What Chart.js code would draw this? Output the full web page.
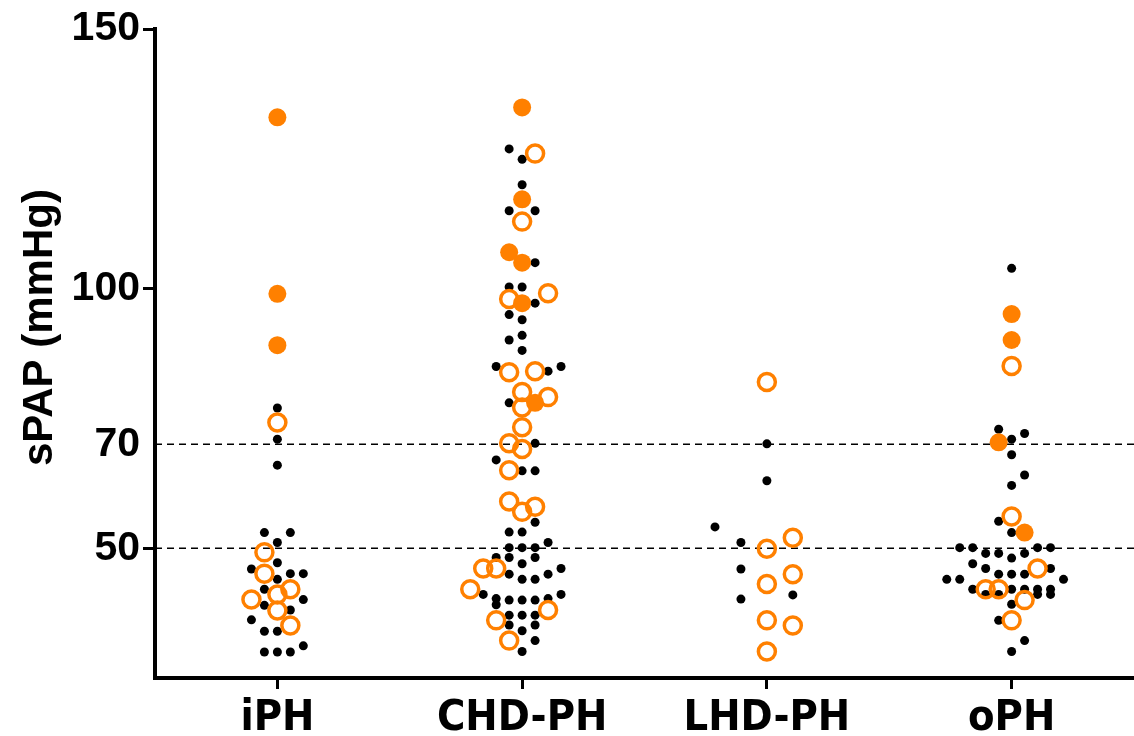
<!DOCTYPE html>
<html>
<head>
<meta charset="utf-8">
<title>sPAP by PH group</title>
<script src="https://cdn.jsdelivr.net/npm/chart.js@4.4.1/dist/chart.umd.min.js"></script>
<style>
  html, body { margin: 0; padding: 0; background: #fff; overflow: hidden; }
  #wrap { width: 1134px; height: 736px; }
</style>
</head>
<body>
<div id="wrap"><canvas id="chart"></canvas></div>
<script>
const categories = ['iPH', 'CHD-PH', 'LHD-PH', 'oPH']
const yTicks = [50, 70, 100, 150]
const cutoffs = [70, 50]
const yTitle = 'sPAP (mmHg)'

// each dot: [column, sPAP]; column = dot slot left (-) / right (+) of the group centre
const iphBlack = [[0, 77], [0, 71], [0, 66], [-1, 53], [1, 53], [0, 51.1], [0, 47.2], [-2, 46], [1, 45.1], [2, 45.1],
  [0, 44], [-1, 42.1], [2, 40.1], [-1, 39], [1, 38.1], [-2, 36.2], [-1, 34], [0, 34], [-1, 30], [0, 30], [1, 30], [2, 31.2]]
const iphOpen = [[0, 74.2], [-1, 49.2], [-1, 45.1], [0, 41.1], [1, 42.1], [-2, 40.1], [0, 38], [1, 35.1]]
const iphFilled = [[0, 133], [0, 99], [0, 89.1]]

const chdBlack = [[-1, 126.9], [0, 124.9], [0, 120], [-1, 115], [1, 115], [1, 105], [-1, 100.3], [0, 100.3], [1, 97.2],
  [-1, 95], [0, 94], [0, 91], [-1, 90.1], [0, 88.1], [-2, 85], [2, 84.1], [3, 85], [-1, 78], [1, 70.2], [-2, 67],
  [0, 64.9], [1, 64.9], [1, 55], [-1, 53.1], [0, 53.1], [2, 51.1], [-1, 50.1], [0, 50.1], [1, 50.1], [-2, 48.2],
  [-1, 48.2], [1, 48.2], [0, 47], [3, 46.1], [-1, 45], [2, 45], [0, 44], [1, 44], [-3, 41.1], [3, 41.1], [-2, 40.3],
  [-1, 40], [0, 40], [1, 40], [2, 40.3], [-2, 39.1], [-1, 37.1], [0, 37.1], [1, 37.1], [-1, 35.2], [1, 35.2],
  [0, 34.1], [1, 32.2], [0, 30.1]]
const chdOpen = [[1, 126], [0, 112.9], [-1, 98], [2, 99.1], [-1, 83.9], [1, 84.1], [0, 80.1], [2, 79.1], [0, 77.1],
  [0, 73.3], [-1, 70.2], [0, 69.1], [-1, 65], [-1, 59], [1, 58], [0, 57], [-3, 46.1], [-2, 46.1], [-4, 42.1],
  [2, 38.1], [-2, 36.1], [-1, 32.2]]
const chdFilled = [[0, 134.9], [0, 117.2], [-1, 107], [0, 105], [0, 97.2], [1, 78]]

const lhdBlack = [[0, 70.1], [0, 63], [-4, 54.1], [-2, 51.1], [-2, 46], [2, 41], [-2, 40.2]]
const lhdOpen = [[0, 82], [2, 52], [0, 49.9], [2, 45], [0, 43.1], [0, 36.1], [2, 35.1], [0, 30.1]]
const lhdFilled = []

const ophBlack = [[0, 103.9], [-1, 72.9], [1, 72.1], [0, 71], [0, 68], [1, 64.1], [0, 62.1], [-1, 55.2], [0, 53],
  [-4, 50.1], [-3, 50.1], [2, 50.1], [3, 50.1], [-2, 49], [-1, 49], [1, 49], [0, 48.1], [-3, 47], [-2, 46.1],
  [3, 46.1], [-5, 44], [-4, 44], [-1, 45], [0, 45], [1, 45], [4, 44], [-3, 42.1], [0, 42.1], [1, 42.1], [2, 42.1],
  [3, 42.1], [-2, 41.1], [-1, 41.1], [2, 41.1], [3, 41.1], [0, 39.2], [-1, 36.1], [1, 32.2], [0, 30.1]]
const ophOpen = [[0, 85.1], [0, 56.1], [2, 46.1], [-2, 42.1], [-1, 42.1], [1, 40], [0, 36.1]]
const ophFilled = [[0, 95.1], [0, 90.1], [-1, 70.4], [1, 53]]

const groups = [
  { black: iphBlack, open: iphOpen, filled: iphFilled },
  { black: chdBlack, open: chdOpen, filled: chdFilled },
  { black: lhdBlack, open: lhdOpen, filled: lhdFilled },
  { black: ophBlack, open: ophOpen, filled: ophFilled }
]

const ORANGE = '#ff8000'
const SLOT = 0.053  // width of one dot column, in category units

// group i sits at x = i + 1 on a linear axis
function collect(kind) {
  return groups.flatMap((g, i) => g[kind].map(([col, v]) => ({ x: i + 1 + col * SLOT, y: v })))
}

const boldFont = (size, family) => ({ family: family || "'Liberation Sans', Arial, sans-serif", weight: 'bold', size })

const datasets = [
  { data: collect('filled'), pointRadius: 9, pointBackgroundColor: ORANGE, pointBorderWidth: 0 },
  { data: collect('open'), pointRadius: 8.5, pointBackgroundColor: 'rgba(0,0,0,0)', pointBorderColor: ORANGE, pointBorderWidth: 3.5 },
  { data: collect('black'), pointRadius: 4.5, pointBackgroundColor: '#000', pointBorderWidth: 0 }
]
cutoffs.forEach(c => {
  datasets.push({
    data: [{ x: 0.5, y: c }, { x: 4.5, y: c }],
    showLine: true,
    pointRadius: 0,
    borderColor: '#000',
    borderWidth: 1.5,
    borderDash: [7, 5]
  })
})

// y axis title sits a bit above the middle of the axis in the original
const yTitlePlugin = {
  id: 'yTitle',
  afterDraw(chart) {
    const { ctx, chartArea } = chart
    ctx.save()
    ctx.translate(40, chartArea.top + (chartArea.bottom - chartArea.top) * 0.46)
    ctx.rotate(-Math.PI / 2)
    ctx.font = "bold 42px 'Liberation Sans', Arial, sans-serif"
    ctx.fillStyle = '#000'
    ctx.textAlign = 'center'
    ctx.textBaseline = 'middle'
    ctx.fillText(yTitle, 0, 0)
    ctx.restore()
  }
}

new Chart(document.getElementById('chart'), {
  type: 'scatter',
  data: { datasets },
  plugins: [yTitlePlugin],
  options: {
    responsive: true,
    maintainAspectRatio: false,
    animation: false,
    layout: { autoPadding: false, padding: { top: 29, right: 0, left: 0, bottom: 0 } },
    plugins: {
      legend: { display: false },
      tooltip: { enabled: false }
    },
    scales: {
      x: {
        type: 'linear',
        min: 0.5,
        max: 4.5,
        afterFit: s => {
          s.height = 58
          s.paddingLeft = 0
          s.paddingRight = 0
        },
        afterBuildTicks: s => { s.ticks = categories.map((c, i) => ({ value: i + 1 })) },
        ticks: {
          callback: v => categories[v - 1],
          color: '#000',
          font: boldFont(43, "'Liberation Sans Narrow', 'DejaVu Sans Condensed', sans-serif"),
          padding: 4,
          maxRotation: 0,
          autoSkip: false
        },
        grid: { drawOnChartArea: false, tickLength: 11, tickWidth: 3, tickColor: '#000' },
        border: { color: '#000', width: 4 }
      },
      y: {
        min: 25,
        max: 150,
        afterFit: s => { s.width = 155 },
        afterBuildTicks: s => { s.ticks = yTicks.map(v => ({ value: v })) },
        ticks: { color: '#000', font: boldFont(41), padding: 3 },
        grid: {
          drawOnChartArea: false,
          tickLength: 12,
          tickWidth: 3,
          // no tick mark at 70, only the label
          tickColor: c => (c.tick && c.tick.value === 70 ? 'rgba(0,0,0,0)' : '#000')
        },
        border: { color: '#000', width: 4 }
      }
    }
  }
})
</script>
</body>
</html>
